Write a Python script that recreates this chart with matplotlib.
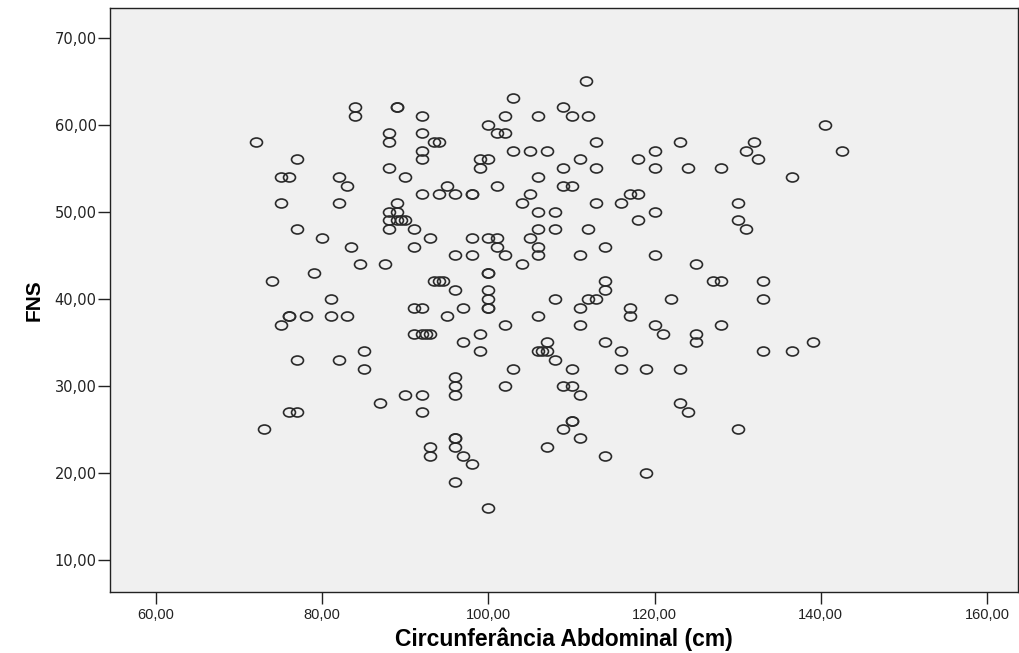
import matplotlib
matplotlib.use('Agg')
import matplotlib.pyplot as plt
from matplotlib.path import Path
from matplotlib.transforms import Affine2D

# FNS value -> circunferência abdominal (cm) of the points at that value
fns_levels = [65, 63, 62, 61, 60, 59, 58, 57, 56, 55, 54, 53, 52, 51, 50, 49, 48, 47,
              46, 45, 44, 43, 42, 41, 40, 39, 38, 37, 36, 35, 34, 33, 32, 31, 30, 29,
              28, 27, 26, 25, 24, 23, 22, 21, 20, 19, 16]
circ_at_level = [
    [111.7],
    [103],
    [84, 89, 89, 109],
    [84, 92, 102, 106, 110, 112],
    [100, 140.5],
    [88, 92, 101, 102],
    [72, 88, 93.5, 94, 113, 123, 132],
    [92, 103, 105, 107, 120, 131, 142.5],
    [77, 92, 99, 100, 111, 118, 132.5],
    [88, 99, 109, 113, 120, 124, 128],
    [75, 76, 82, 90, 106, 136.5],
    [83, 95, 101, 109, 110],
    [92, 94, 96, 98, 98, 105, 117, 118],
    [75, 82, 89, 104, 113, 116, 130],
    [88, 89, 106, 108, 120],
    [88, 89, 89.5, 90, 118, 130],
    [77, 88, 91, 106, 108, 112, 131],
    [80, 93, 98, 100, 101, 105],
    [83.5, 91, 101, 106, 114],
    [96, 98, 102, 106, 111, 120],
    [84.5, 87.5, 104, 125],
    [79, 100, 100],
    [74, 93.5, 94, 94.5, 114, 127, 128, 133],
    [96, 100, 114],
    [81, 100, 108, 112, 113, 122, 133],
    [91, 92, 97, 100, 100, 111, 117],
    [76, 76, 78, 81, 83, 95, 106, 117],
    [75, 102, 111, 120, 128],
    [91, 92, 92.5, 93, 99, 121, 125],
    [97, 107, 114, 125, 139],
    [85, 99, 106, 106.5, 107, 116, 133, 136.5],
    [77, 82, 108],
    [85, 103, 110, 116, 119, 123],
    [96],
    [96, 102, 109, 110],
    [90, 92, 96, 111],
    [87, 123],
    [76, 77, 92, 124],
    [110, 110],
    [73, 109, 130],
    [96, 96, 111],
    [93, 96, 107],
    [93, 97, 114],
    [98],
    [119],
    [96],
    [100],
]

x_ticks = [60, 80, 100, 120, 140, 160]
y_ticks = [10, 20, 30, 40, 50, 60, 70]

circ = []
fns = []
for level, xs in zip(fns_levels, circ_at_level):
    for x in xs:
        circ.append(x)
        fns.append(level)

# SPSS draws slightly flattened open circles
ellipse = Path.unit_circle().transformed(Affine2D().scale(1.0, 0.75))

fig = plt.figure(figsize=(10.2, 6.53), dpi=100)
ax = fig.add_axes([110 / 1020, 1 - 592 / 653, 908 / 1020, 584 / 653])
ax.set_facecolor('#f0f0f0')

ax.plot(circ, fns, linestyle='none', marker=ellipse, markersize=8.6,
        markerfacecolor='none', markeredgecolor='#2a2a2a', markeredgewidth=1.2)

ax.set_xlim(54.46, 163.73)
ax.set_ylim(6.34, 73.39)
ax.set_xticks(x_ticks)
ax.set_xticklabels(['%d,00' % v for v in x_ticks], family='Liberation Sans', fontsize=10.5)
ax.set_yticks(y_ticks)
ax.set_yticklabels(['%d,00' % v for v in y_ticks], family='DejaVu Sans', fontsize=10.5)
ax.tick_params(direction='out', length=8.5, width=1, color='#222222', labelcolor='#222222')
ax.tick_params(axis='y', pad=1)
ax.tick_params(axis='x', pad=3)
for side in ['left', 'bottom', 'top', 'right']:
    ax.spines[side].set_color('#222222')
    ax.spines[side].set_linewidth(1)

ax.set_xlabel('Circunferância Abdominal (cm)', family='Liberation Sans',
              fontweight='bold', fontsize=16.5, labelpad=4)
ax.set_ylabel('FNS', family='Liberation Sans', fontweight='bold', fontsize=15, labelpad=8)

fig.savefig('out.png', dpi=100)
